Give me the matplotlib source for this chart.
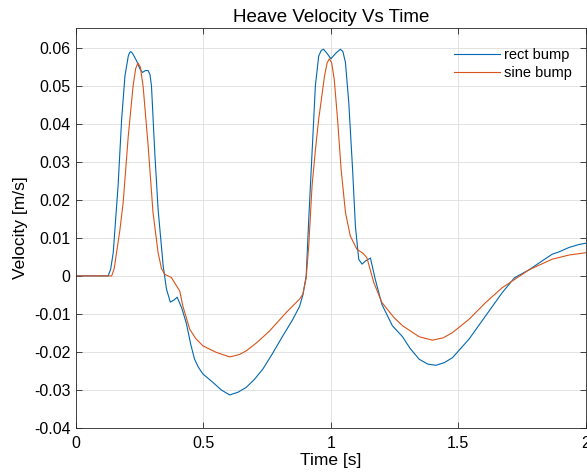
import matplotlib
matplotlib.use("Agg")
import matplotlib.pyplot as plt
import matplotlib.ticker as mticker

plt.rcParams["font.family"] = ["Liberation Sans", "DejaVu Sans"]
plt.rcParams["axes.unicode_minus"] = False

# values
t_rect = [0, 0.126, 0.136, 0.146, 0.165, 0.179, 0.192, 0.205, 0.210, 0.215, 0.222, 0.238, 0.250,
          0.261, 0.272, 0.283, 0.290, 0.296, 0.309, 0.322, 0.342, 0.355, 0.370, 0.385, 0.397,
          0.415, 0.433, 0.450, 0.465, 0.480, 0.498, 0.537, 0.570, 0.603, 0.635, 0.668, 0.700,
          0.733, 0.770, 0.811, 0.850, 0.877, 0.890, 0.903, 0.913, 0.926, 0.939, 0.952, 0.962,
          0.971, 0.985, 1.0, 1.018, 1.037, 1.047, 1.057, 1.070, 1.085, 1.096, 1.109, 1.122,
          1.137, 1.155, 1.174, 1.200, 1.241, 1.281, 1.310, 1.346, 1.380, 1.412, 1.445, 1.477,
          1.542, 1.607, 1.672, 1.720, 1.777, 1.830, 1.868, 1.894, 1.935, 1.970, 2.0]
v_rect = [0, 0, 0.0018, 0.0061, 0.0237, 0.0412, 0.0526, 0.0578, 0.0587, 0.0590, 0.0585, 0.0565,
          0.0545, 0.0535, 0.0540, 0.0540, 0.0530, 0.0500, 0.0324, 0.0175, 0.0026, -0.0035,
          -0.0069, -0.0063, -0.0056, -0.0085, -0.0125, -0.0180, -0.0219, -0.0240, -0.0258,
          -0.0280, -0.0300, -0.0313, -0.0306, -0.0293, -0.0272, -0.0245, -0.0205, -0.0158,
          -0.0115, -0.0080, -0.0050, 0.0, 0.0149, 0.0324, 0.0500, 0.0578, 0.0593, 0.0596,
          0.0585, 0.0571, 0.0585, 0.0596, 0.0590, 0.0561, 0.0456, 0.0280, 0.0131, 0.0044,
          0.0031, 0.0040, 0.0047, -0.0009, -0.0075, -0.0131, -0.0160, -0.0190, -0.0219, -0.0232,
          -0.0235, -0.0228, -0.0215, -0.0166, -0.0105, -0.0044, -0.0005, 0.0016, 0.0040, 0.0057,
          0.0063, 0.0075, 0.0082, 0.0086]

t_sine = [0, 0.140, 0.150, 0.159, 0.172, 0.185, 0.205, 0.224, 0.234, 0.243, 0.252, 0.263, 0.283,
          0.302, 0.322, 0.335, 0.348, 0.374, 0.394, 0.407, 0.419, 0.446, 0.470, 0.498, 0.550,
          0.603, 0.640, 0.668, 0.710, 0.759, 0.825, 0.877, 0.890, 0.903, 0.913, 0.926, 0.939,
          0.952, 0.975, 0.985, 0.994, 1.003, 1.013, 1.026, 1.040, 1.057, 1.076, 1.102, 1.125,
          1.141, 1.168, 1.200, 1.248, 1.281, 1.346, 1.398, 1.440, 1.477, 1.542, 1.607, 1.672,
          1.777, 1.868, 1.935, 2.0]
v_sine = [0, 0, 0.0020, 0.0061, 0.0120, 0.0193, 0.0368, 0.0500, 0.0545, 0.0560, 0.0550, 0.0500,
          0.0342, 0.0167, 0.0061, 0.0020, 0.0004, -0.0004, -0.0026, -0.0040, -0.0079, -0.0140,
          -0.0165, -0.0184, -0.0201, -0.0213, -0.0207, -0.0197, -0.0175, -0.0145, -0.0096,
          -0.0061, -0.0048, -0.0005, 0.0080, 0.0237, 0.0330, 0.0412, 0.0526, 0.0560, 0.0571,
          0.0560, 0.0517, 0.0412, 0.0280, 0.0167, 0.0105, 0.0070, 0.0060, 0.0048, -0.0017,
          -0.0070, -0.0110, -0.0131, -0.0160, -0.0169, -0.0163, -0.0149, -0.0114, -0.0070,
          -0.0031, 0.0016, 0.0044, 0.0055, 0.0061]

x_ticks = [0, 0.5, 1, 1.5, 2]
y_ticks = [-0.04, -0.03, -0.02, -0.01, 0, 0.01, 0.02, 0.03, 0.04, 0.05, 0.06]

fig = plt.figure(figsize=(5.87, 4.74), dpi=100)
ax = fig.add_axes([0.1295, 0.097, 0.8685, 0.844])

ax.plot(t_rect, v_rect, color="#0068B0", linewidth=0.8, label="rect bump")
ax.plot(t_sine, v_sine, color="#D95319", linewidth=0.8, label="sine bump")

ax.set_xlim(0, 2)
ax.set_ylim(-0.04, 0.0652)
ax.set_xticks(x_ticks)
ax.set_yticks(y_ticks)
ax.xaxis.set_major_formatter(mticker.FuncFormatter(lambda v, p: f"{v:g}"))
ax.yaxis.set_major_formatter(mticker.FuncFormatter(lambda v, p: f"{v:g}"))
ax.tick_params(direction="in", length=4, width=0.6, labelsize=11.5, color="#262626",
               top=True, right=True)
ax.tick_params(axis="x", pad=6)
ax.tick_params(axis="y", pad=4)
ax.grid(True, color="#dedede", linewidth=0.6)
ax.set_axisbelow(True)
for s in ax.spines.values():
    s.set_color("#262626")
    s.set_linewidth(0.6)

ax.set_title("Heave Velocity Vs Time", fontsize=13.5, pad=4)
ax.set_xlabel("Time [s]", fontsize=12.5, labelpad=1)
ax.set_ylabel("Velocity [m/s]", fontsize=12.5, labelpad=4)

ax.legend(loc="upper left", bbox_to_anchor=(0.741, 0.95), frameon=False, fontsize=10.5,
          handlelength=3.2, handletextpad=0.25, borderaxespad=0, borderpad=0,
          labelspacing=0.3)

fig.savefig("out.png", dpi=100)
